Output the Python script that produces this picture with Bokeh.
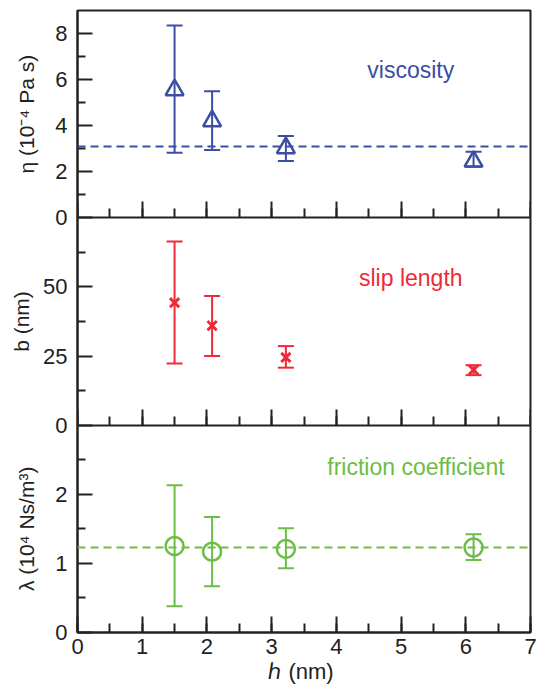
from bokeh.plotting import figure
from bokeh.layouts import row
from bokeh.models import (ColumnDataSource, Range1d, LinearAxis, FixedTicker,
                          SingleIntervalTicker, Whisker, TeeHead, Span, Label)
from bokeh.embed import file_html
from bokeh.resources import INLINE

# ---- data ----
h = [1.5, 2.08, 3.22, 6.12]

eta = [5.55, 4.2, 3.03, 2.45]
eta_upper = [8.35, 5.5, 3.55, 2.87]
eta_lower = [2.83, 2.94, 2.47, 2.22]
eta_mean = 3.1

b = [44.3, 36.0, 24.5, 20.0]
b_upper = [66.4, 46.7, 28.6, 21.7]
b_lower = [22.3, 25.0, 20.8, 18.1]

lam = [1.25, 1.17, 1.21, 1.23]
lam_upper = [2.13, 1.67, 1.51, 1.42]
lam_lower = [0.38, 0.67, 0.93, 1.05]
lam_mean = 1.23

eta_ticks = [0, 2, 4, 6, 8]
eta_minor = [1, 3, 5, 7]
b_ticks = [0, 25, 50]
b_minor = [12.5, 37.5, 62.5]
lam_ticks = [0, 1, 2]
lam_minor = [0.5, 1.5, 2.5]

eta_max = 9
b_max = 75
lam_max = 3

eta_title = "η (10⁻⁴ Pa s)"
b_title = "b (nm)"
lam_title = "λ (10⁴ Ns/m³)"
x_title = "ℎ  (nm)"

BLUE = "#3b4ea3"
RED = "#ee2a3a"
GREEN = "#6cbd45"
INK = "#222222"
FONT = "Liberation Sans"

# each panel occupies one third of the frame; ranges are widened so that
# the panels stack: eta on top, b in the middle, lambda at the bottom
ranges = {
    "lam": (0, 3 * lam_max),
    "b": (-b_max, 2 * b_max),
    "eta": (-2 * eta_max, eta_max),
}

TOP, BOTTOM, HEIGHT = 10, 54, 686
TW = 40  # width of the strip that carries the y titles

p = figure(width=538 - TW, height=HEIGHT, output_backend="svg",
           toolbar_location=None,
           x_range=Range1d(0, 7), y_range=Range1d(*ranges["lam"]),
           min_border_left=75 - TW, min_border_right=8,
           min_border_top=TOP, min_border_bottom=BOTTOM)
p.extra_y_ranges = {
    "eta": Range1d(*ranges["eta"]),
    "b": Range1d(*ranges["b"]),
}
p.xgrid.grid_line_color = None
p.ygrid.grid_line_color = None
p.outline_line_color = INK
p.outline_line_width = 2


def style_axis(ax, label_size="22px"):
    ax.axis_line_color = INK
    ax.axis_line_width = 2
    ax.major_tick_line_color = INK
    ax.minor_tick_line_color = INK
    ax.major_tick_line_width = 2
    ax.minor_tick_line_width = 2
    ax.major_tick_out = 0
    ax.minor_tick_out = 0
    ax.major_label_text_font = FONT
    ax.major_label_text_font_size = label_size
    ax.major_label_text_color = INK


# main x axis
xa = p.xaxis[0]
xa.ticker = SingleIntervalTicker(interval=1, num_minor_ticks=2)
style_axis(xa)
xa.major_tick_in = 16
xa.minor_tick_in = 9
xa.major_label_standoff = 6
xa.axis_label = x_title
xa.axis_label_text_font = FONT
xa.axis_label_text_font_size = "22px"
xa.axis_label_text_font_style = "normal"
xa.axis_label_text_color = INK
xa.axis_label_standoff = 2

# panel separators with inward ticks
for rname in ["eta", "b"]:
    ax = LinearAxis(ticker=SingleIntervalTicker(interval=1, num_minor_ticks=2),
                    y_range_name=rname, fixed_location=0)
    style_axis(ax)
    ax.major_tick_in = 16
    ax.minor_tick_in = 9
    ax.major_label_text_color = None
    ax.major_label_text_font_size = "0px"
    p.add_layout(ax, "below")


# y axis: one axis, ticks of the three panels mapped onto the shared frame
def to_frame(v, rname):
    lo, hi = ranges[rname]
    flo, fhi = ranges["lam"]
    return round(flo + (v - lo) / (hi - lo) * (fhi - flo), 9)


majors, minors, overrides = [], [], {}
for rname, ticks, minor in [("lam", lam_ticks, lam_minor),
                            ("b", b_ticks, b_minor),
                            ("eta", eta_ticks, eta_minor)]:
    for t in ticks:
        pos = to_frame(t, rname)
        majors.append(pos)
        overrides[pos] = str(t)
    for t in minor:
        minors.append(to_frame(t, rname))

ya = p.yaxis[0]
ya.ticker = FixedTicker(ticks=majors, minor_ticks=minors)
ya.major_label_overrides = overrides
style_axis(ya)
ya.major_tick_in = 15
ya.minor_tick_in = 8
ya.major_label_standoff = 10

# ---- panel 1: viscosity ----
s_eta = ColumnDataSource(dict(x=h, y=eta, upper=eta_upper, lower=eta_lower))
p.add_layout(Span(location=eta_mean, dimension="width", y_range_name="eta",
                  line_color=BLUE, line_width=2, line_dash="8 5"))
p.add_layout(Whisker(source=s_eta, base="x", upper="upper", lower="lower",
                     y_range_name="eta", line_color=BLUE, line_width=2,
                     upper_head=TeeHead(size=16, line_color=BLUE, line_width=2),
                     lower_head=TeeHead(size=16, line_color=BLUE, line_width=2)))
p.scatter("x", "y", source=s_eta, marker="triangle", size=18, fill_color=None,
          line_color=BLUE, line_width=2.5, y_range_name="eta")

# ---- panel 2: slip length ----
s_b = ColumnDataSource(dict(x=h, y=b, upper=b_upper, lower=b_lower))
p.add_layout(Whisker(source=s_b, base="x", upper="upper", lower="lower",
                     y_range_name="b", line_color=RED, line_width=2,
                     upper_head=TeeHead(size=16, line_color=RED, line_width=2),
                     lower_head=TeeHead(size=16, line_color=RED, line_width=2)))
p.scatter("x", "y", source=s_b, marker="x", size=13, line_color=RED,
          line_width=3, y_range_name="b")

# ---- panel 3: friction coefficient ----
s_lam = ColumnDataSource(dict(x=h, y=lam, upper=lam_upper, lower=lam_lower))
p.add_layout(Span(location=lam_mean, dimension="width",
                  line_color=GREEN, line_width=2, line_dash="8 5"))
p.add_layout(Whisker(source=s_lam, base="x", upper="upper", lower="lower",
                     line_color=GREEN, line_width=2,
                     upper_head=TeeHead(size=16, line_color=GREEN, line_width=2),
                     lower_head=TeeHead(size=16, line_color=GREEN, line_width=2)))
p.scatter("x", "y", source=s_lam, marker="circle", size=18, fill_color=None,
          line_color=GREEN, line_width=2.5)

# ---- in-panel titles ----
for txt, xx, yy, rname, col in [("viscosity", 5.15, 6.4, "eta", BLUE),
                                ("slip length", 5.15, 53.4, "b", RED),
                                ("friction coefficient", 5.23, 2.4, "default", GREEN)]:
    p.add_layout(Label(x=xx, y=yy, y_range_name=rname, text=txt,
                       text_align="center", text_baseline="middle",
                       text_font=FONT, text_font_size="23px", text_color=col))

# ---- strip on the left carrying the rotated y titles ----
t = figure(width=TW, height=HEIGHT, output_backend="svg", toolbar_location=None,
           x_range=Range1d(0, TW), y_range=Range1d(*ranges["lam"]),
           x_axis_location=None, y_axis_location=None,
           min_border_left=0, min_border_right=0,
           min_border_top=TOP, min_border_bottom=BOTTOM)
t.extra_y_ranges = {
    "eta": Range1d(*ranges["eta"]),
    "b": Range1d(*ranges["b"]),
}
t.outline_line_color = None
t.xgrid.grid_line_color = None
t.ygrid.grid_line_color = None
for txt, xx, yy, rname in [(eta_title, 26, eta_max / 2, "eta"),
                           (b_title, 21, b_max / 2, "b"),
                           (lam_title, 26, lam_max / 2, "default")]:
    t.add_layout(Label(x=xx, y=yy, y_range_name=rname, text=txt, angle=90,
                       angle_units="deg", text_align="center",
                       text_baseline="middle", text_font=FONT,
                       text_font_size="21px", text_color=INK))

open("out.html", "w").write(file_html(row(t, p), INLINE))
